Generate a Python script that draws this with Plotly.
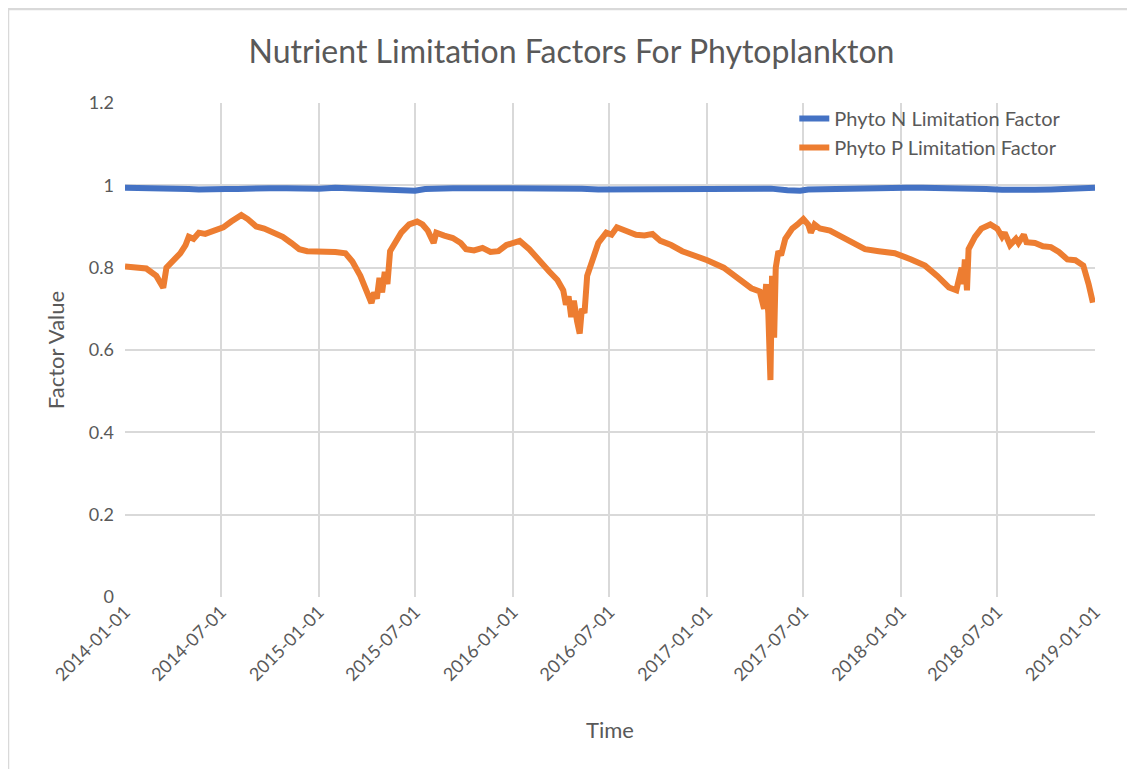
import plotly.graph_objects as go

# ---- data ----
p_dates = [
    "2014-01-01", "2014-01-20", "2014-02-10", "2014-03-01", "2014-03-14", "2014-03-20",
    "2014-04-01", "2014-04-15", "2014-04-25", "2014-05-01", "2014-05-10", "2014-05-20",
    "2014-06-01", "2014-06-20", "2014-07-05", "2014-07-20", "2014-08-08", "2014-08-20",
    "2014-09-05", "2014-09-20", "2014-10-10", "2014-10-25", "2014-11-10", "2014-11-25",
    "2014-12-10", "2015-01-01", "2015-02-01", "2015-02-20", "2015-03-05", "2015-03-20",
    "2015-04-01", "2015-04-10", "2015-04-15", "2015-04-20", "2015-04-25", "2015-04-30",
    "2015-05-05", "2015-05-10", "2015-05-15", "2015-05-25", "2015-06-05", "2015-06-20",
    "2015-07-05", "2015-07-15", "2015-07-25", "2015-08-05", "2015-08-10", "2015-08-25",
    "2015-09-10", "2015-09-25", "2015-10-05", "2015-10-20", "2015-11-05", "2015-11-20",
    "2015-12-05", "2015-12-20", "2016-01-14", "2016-02-01", "2016-02-20", "2016-03-10",
    "2016-03-25", "2016-04-05", "2016-04-10", "2016-04-15", "2016-04-20", "2016-04-25",
    "2016-05-01", "2016-05-06", "2016-05-10", "2016-05-15", "2016-05-20", "2016-05-30",
    "2016-06-10", "2016-06-25", "2016-07-05", "2016-07-15", "2016-08-01", "2016-08-20",
    "2016-09-05", "2016-09-20", "2016-10-05", "2016-10-25", "2016-11-15", "2016-12-10",
    "2017-01-01", "2017-02-01", "2017-03-01", "2017-03-25", "2017-04-10", "2017-04-18",
    "2017-04-22", "2017-04-26", "2017-04-30", "2017-05-03", "2017-05-07", "2017-05-10",
    "2017-05-15", "2017-05-20", "2017-05-28", "2017-06-10", "2017-06-20", "2017-07-01",
    "2017-07-10", "2017-07-15", "2017-07-22", "2017-08-01", "2017-08-20", "2017-09-10",
    "2017-10-01", "2017-10-25", "2017-11-20", "2017-12-20", "2018-01-20", "2018-02-15",
    "2018-03-10", "2018-04-01", "2018-04-15", "2018-04-20", "2018-04-25", "2018-04-28",
    "2018-05-01", "2018-05-05", "2018-05-08", "2018-05-20", "2018-06-01", "2018-06-18",
    "2018-07-01", "2018-07-10", "2018-07-15", "2018-07-25", "2018-08-05", "2018-08-10",
    "2018-08-20", "2018-08-25", "2018-09-10", "2018-09-25", "2018-10-10", "2018-10-25",
    "2018-11-10", "2018-11-25", "2018-12-10", "2018-12-20", "2018-12-28",
]
p_values = [
    0.803, 0.800, 0.798, 0.780, 0.751, 0.800,
    0.815, 0.835, 0.855, 0.875, 0.870, 0.885,
    0.882, 0.890, 0.898, 0.912, 0.928, 0.918,
    0.900, 0.895, 0.885, 0.875, 0.860, 0.845,
    0.840, 0.840, 0.838, 0.835, 0.815, 0.780,
    0.745, 0.714, 0.740, 0.725, 0.775, 0.740,
    0.790, 0.760, 0.840, 0.860, 0.885, 0.905,
    0.912, 0.905, 0.890, 0.860, 0.885, 0.878,
    0.872, 0.860, 0.845, 0.842, 0.848, 0.838,
    0.840, 0.855, 0.865, 0.845, 0.815, 0.790,
    0.770, 0.745, 0.710, 0.730, 0.680, 0.720,
    0.670, 0.640, 0.700, 0.690, 0.780, 0.820,
    0.860, 0.885, 0.880, 0.898, 0.890, 0.880,
    0.878, 0.882, 0.865, 0.855, 0.840, 0.830,
    0.818, 0.800, 0.775, 0.750, 0.742, 0.700,
    0.760, 0.690, 0.527, 0.780, 0.630, 0.800,
    0.840, 0.830, 0.870, 0.895, 0.905, 0.918,
    0.905, 0.885, 0.905, 0.895, 0.890, 0.875,
    0.860, 0.845, 0.840, 0.835, 0.820, 0.805,
    0.780, 0.752, 0.745, 0.770, 0.800, 0.760,
    0.820, 0.745, 0.845, 0.875, 0.895, 0.905,
    0.895, 0.875, 0.885, 0.855, 0.870, 0.860,
    0.880, 0.862, 0.860, 0.852, 0.850, 0.838,
    0.820, 0.818, 0.805, 0.760, 0.715,
]

n_dates = [
    "2014-01-01", "2014-02-15", "2014-03-20", "2014-04-10", "2014-05-01", "2014-05-20",
    "2014-06-15", "2014-07-10", "2014-08-01", "2014-09-01", "2014-10-01", "2014-11-01",
    "2014-12-01", "2015-01-01", "2015-02-01", "2015-03-01", "2015-04-01", "2015-05-01",
    "2015-06-01", "2015-07-01", "2015-07-20", "2015-08-10", "2015-09-10", "2015-10-10",
    "2015-11-10", "2015-12-10", "2016-01-10", "2016-02-10", "2016-03-10", "2016-04-10",
    "2016-05-10", "2016-06-10", "2016-07-10", "2016-08-10", "2016-09-10", "2016-10-10",
    "2016-11-10", "2016-12-10", "2017-01-10", "2017-02-10", "2017-03-10", "2017-04-10",
    "2017-05-01", "2017-06-01", "2017-06-25", "2017-07-10", "2017-08-10", "2017-09-10",
    "2017-10-10", "2017-11-10", "2017-12-10", "2018-01-10", "2018-02-10", "2018-03-10",
    "2018-04-10", "2018-05-10", "2018-06-10", "2018-07-10", "2018-08-10", "2018-09-10",
    "2018-10-10", "2018-11-10", "2018-12-10", "2019-01-01",
]
n_values = [
    0.994, 0.994, 0.993, 0.992, 0.991, 0.990,
    0.992, 0.991, 0.991, 0.993, 0.993, 0.993,
    0.992, 0.992, 0.994, 0.993, 0.991, 0.991,
    0.990, 0.987, 0.991, 0.993, 0.993, 0.993,
    0.993, 0.994, 0.994, 0.993, 0.993, 0.992,
    0.992, 0.990, 0.990, 0.992, 0.993, 0.993,
    0.992, 0.990, 0.991, 0.993, 0.993, 0.993,
    0.992, 0.988, 0.987, 0.990, 0.991, 0.993,
    0.993, 0.993, 0.994, 0.994, 0.994, 0.994,
    0.992, 0.994, 0.991, 0.989, 0.988, 0.989,
    0.990, 0.992, 0.993, 0.994,
]

tick_vals = [
    "2014-01-01", "2014-07-01", "2015-01-01", "2015-07-01", "2016-01-01", "2016-07-01",
    "2017-01-01", "2017-07-01", "2018-01-01", "2018-07-01", "2019-01-01",
]

TEXT = "#595959"
GRID = "#D9D9D9"
FONT = "Lato, 'Open Sans', sans-serif"

W, H = 1127, 761  # page body adds an 8px offset in the 1135x769 window
L, R, T, B = 117, 40, 95, 172
PW, PH = W - L - R, H - T - B

fig = go.Figure()
fig.add_trace(go.Scatter(
    x=n_dates, y=n_values, mode="lines", name="Phyto N Limitation Factor",
    line=dict(color="#4472C4", width=6),
))
fig.add_trace(go.Scatter(
    x=p_dates, y=p_values, mode="lines", name="Phyto P Limitation Factor",
    line=dict(color="#ED7D31", width=6),
))

fig.update_layout(
    width=W, height=H,
    margin=dict(l=L, r=R, t=T, b=B),
    paper_bgcolor="white", plot_bgcolor="white",
    font=dict(family=FONT, color=TEXT, size=18),
    title=dict(text="Nutrient Limitation Factors For Phytoplankton",
               x=0.5, xanchor="center", y=0.942, yanchor="middle",
               font=dict(size=32, color=TEXT, family=FONT)),
    showlegend=True,
    legend=dict(x=0.69, y=1.008, xanchor="left", yanchor="top",
                bgcolor="rgba(0,0,0,0)", font=dict(size=20, color=TEXT),
                tracegroupgap=0),
    xaxis=dict(
        type="date", range=["2014-01-01", "2019-01-01"],
        tickmode="array", tickvals=tick_vals, ticktext=tick_vals,
        tickangle=-45, showgrid=True, gridcolor=GRID, gridwidth=2,
        zeroline=False, showline=False, ticks="",
        tickfont=dict(size=18, color=TEXT),
        title=dict(text="Time", font=dict(size=22, color=TEXT), standoff=38),
    ),
    yaxis=dict(
        range=[0, 1.2], dtick=0.2, tick0=0, showgrid=True, gridcolor=GRID,
        gridwidth=2, zeroline=False, showline=False, ticks="",
        tickfont=dict(size=18, color=TEXT), ticklabelstandoff=10,
        title=dict(text="Factor Value", font=dict(size=22, color=TEXT), standoff=18),
    ),
    shapes=[dict(type="rect", xref="paper", yref="paper",
                 x0=(0 - L) / PW, x1=(1400 - L) / PW,
                 y0=-(1000 - (T + PH)) / PH, y1=(PH + T - 1) / PH,
                 line=dict(color="#D9D9D9", width=2.5), layer="below")],
)

fig.write_html("out.html")
